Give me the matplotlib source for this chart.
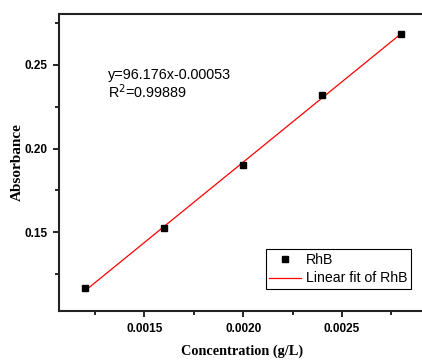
import matplotlib
matplotlib.use("Agg")
import matplotlib.pyplot as plt
from matplotlib.ticker import MultipleLocator
import numpy as np

# calibration data for RhB
concentration = [0.0012, 0.0016, 0.0020, 0.0024, 0.0028]
absorbance = [0.1165, 0.1523, 0.1901, 0.2322, 0.2686]
slope = 96.176
intercept = -0.00053
r_squared = 0.99889

fig = plt.figure(figsize=(4.22, 3.6), dpi=100)
# right edge of the axes sits just past the figure edge (cropped, like the original)
ax = fig.add_axes([0.140, 0.136, 0.884, 0.825])

fit_x = np.array([concentration[0], concentration[-1]])
ax.plot(concentration, absorbance, linestyle="none", marker="s", markersize=4.6,
        color="black", label="RhB", zorder=3)
ax.plot(fit_x, slope * fit_x + intercept, color="red", linewidth=0.9,
        label="Linear fit of RhB", zorder=2)

ax.set_xlim(0.001068, 0.002957)
ax.set_ylim(0.1027, 0.2805)
ax.xaxis.set_major_locator(MultipleLocator(0.0005))
ax.xaxis.set_minor_locator(MultipleLocator(0.00025))
ax.yaxis.set_major_locator(MultipleLocator(0.05))
ax.yaxis.set_minor_locator(MultipleLocator(0.025))
ax.xaxis.set_major_formatter(plt.FormatStrFormatter("%.4f"))
ax.yaxis.set_major_formatter(plt.FormatStrFormatter("%.2f"))

ax.tick_params(which="both", direction="out", top=False, right=False, width=1.2)
ax.tick_params(which="major", length=4, pad=4.3)
ax.tick_params(which="minor", length=3)
for lbl in ax.get_xticklabels() + ax.get_yticklabels():
    lbl.set_fontfamily("Liberation Sans")
    lbl.set_fontweight("bold")
    lbl.set_fontsize(8.5)
for sp in ax.spines.values():
    sp.set_linewidth(1.5)
    sp.set_color("#222222")

ax.set_xlabel("Concentration (g/L)", fontfamily="Liberation Serif",
              fontweight="bold", fontsize=10.3, va="center")
ax.set_ylabel("Absorbance", fontfamily="Liberation Serif",
              fontweight="bold", fontsize=11, va="center")
ax.xaxis.set_label_coords((242 - 59) / 373, -(351 - 311) / 297)
ax.yaxis.set_label_coords(-(59 - 17) / 373, (311 - 162) / 297)

ax.text(0.001316, 0.244, f"y={slope}x{intercept:.5f}", fontfamily="Liberation Sans",
        fontsize=10.4, va="center")
ax.text(0.001316, 0.2338, f"R$^2$={r_squared}", fontfamily="Liberation Sans",
        fontsize=10.4, va="center")

leg = ax.legend(loc="lower right", bbox_to_anchor=((411 - 59) / 373, (311 - 289) / 297),
                prop={"family": "Liberation Sans", "size": 10.2},
                fancybox=False, edgecolor="black", framealpha=1,
                borderaxespad=0.0, handlelength=2.25, borderpad=0.25,
                labelspacing=0.35, handletextpad=0.35)
leg.get_frame().set_linewidth(0.8)

fig.savefig("out.png", dpi=100)
